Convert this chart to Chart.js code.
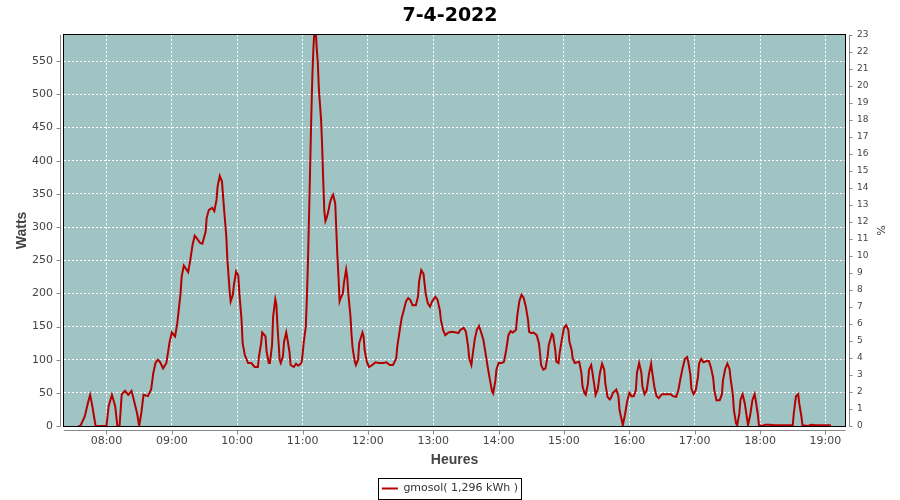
<!DOCTYPE html>
<html>
<head>
<meta charset="utf-8">
<script src="https://cdn.jsdelivr.net/npm/chart.js@4/dist/chart.umd.min.js"></script>
<style>
  html, body { margin: 0; padding: 0; background: #ffffff; }
  canvas { display: block; }
</style>
</head>
<body>
<canvas id="c" width="900" height="500"></canvas>
<script>
// ---------- data ----------
const chartTitle = '7-4-2022';
const seriesLabel = 'gmosol( 1,296 kWh )';
const xTickLabels = ['08:00','09:00','10:00','11:00','12:00','13:00','14:00','15:00','16:00','17:00','18:00','19:00'];
const xRange = ['07:21', '19:18'];
const wattsRange = [0, 590];
const percentRange = [0, 23];

const times = [
'07:34','07:36','07:40','07:43','07:45','07:47','07:50','07:54','07:59','08:00','08:02','08:05','08:08','08:10','08:12','08:14','08:17','08:20','08:23','08:25','08:28','08:30','08:32','08:34','08:38','08:41','08:43','08:45','08:47','08:49','08:52','08:55','08:58',
'09:00','09:03','09:05','09:06','09:08','09:09','09:11','09:13','09:15','09:17','09:19','09:21','09:23','09:26','09:28','09:31','09:32','09:34','09:37','09:39','09:41','09:42','09:44','09:46','09:48','09:50','09:51','09:53','09:54','09:56','09:57','09:59',
'10:01','10:02','10:04','10:05','10:07','10:10','10:13','10:16','10:19','10:20','10:22','10:23','10:26','10:27','10:29','10:30','10:32','10:33','10:35','10:36','10:37','10:39','10:40','10:42','10:43','10:45','10:46','10:48','10:49','10:52','10:54','10:56','10:59',
'11:00','11:01','11:03','11:04','11:05','11:06','11:07','11:08','11:09','11:10','11:11','11:12','11:13','11:14','11:15','11:17','11:18','11:19','11:20','11:21','11:22','11:24','11:25','11:27','11:28','11:30','11:31','11:32','11:33','11:34','11:35','11:37','11:38','11:40','11:41','11:42','11:44','11:45','11:46','11:48','11:49','11:51','11:52','11:55','11:56','11:57','11:59',
'12:01','12:04','12:07','12:10','12:14','12:17','12:20','12:23','12:26','12:27','12:29','12:31','12:33','12:35','12:37','12:39','12:41','12:44','12:46','12:47','12:49','12:51','12:53','12:55','12:57','12:59',
'13:02','13:04','13:06','13:07','13:09','13:11','13:14','13:17','13:21','13:23','13:25','13:28','13:30','13:32','13:33','13:35','13:36','13:38','13:40','13:42','13:44','13:46','13:48','13:50','13:52','13:54','13:55','13:57','13:58',
'14:00','14:03','14:05','14:07','14:09','14:11','14:13','14:16','14:17','14:19','14:21','14:23','14:25','14:27','14:28','14:30','14:32','14:35','14:37','14:38','14:39','14:41','14:43','14:45','14:46','14:49','14:50','14:52','14:53','14:55','14:56','14:58',
'15:00','15:02','15:04','15:05','15:07','15:08','15:10','15:12','15:14','15:16','15:17','15:19','15:20','15:22','15:23','15:25','15:26','15:28','15:29','15:31','15:33','15:35','15:37','15:38','15:40','15:42','15:43','15:45','15:48','15:50','15:51','15:53','15:54','15:56','15:58',
'16:00','16:02','16:04','16:06','16:07','16:09','16:11','16:12','16:14','16:16','16:18','16:20','16:21','16:23','16:25','16:27','16:30','16:33','16:36','16:38','16:40','16:43','16:45','16:47','16:49','16:51','16:53','16:54','16:56','16:57','16:59',
'17:01','17:03','17:04','17:06','17:08','17:11','17:13','17:15','17:17','17:18','17:20','17:23','17:25','17:26','17:28','17:30','17:32','17:33','17:35','17:36','17:38','17:39','17:41','17:42','17:44','17:46','17:48','17:49','17:51','17:53','17:55','17:56','17:58','17:59',
'18:02','18:05','18:09','18:13','18:18','18:23','18:27','18:30','18:31','18:33','18:35','18:36','18:38','18:39','18:44','18:47','18:51','18:55','19:00','19:05'
];

const watts = [
0,0,14,35,47,30,0,0,0,0,30,47,30,0,0,48,53,47,53,40,20,0,20,47,45,55,80,95,100,97,87,95,127,
141,135,155,170,200,225,242,237,232,251,273,287,283,276,275,293,314,326,329,324,341,361,377,369,326,286,251,205,188,198,213,233,
227,200,160,125,107,95,95,89,89,105,125,141,135,112,95,95,122,165,191,183,150,100,95,105,127,141,132,112,92,89,94,91,95,
107,125,150,195,250,319,392,465,528,570,600,600,570,548,508,462,422,370,324,309,313,326,336,346,349,336,296,256,225,188,193,200,216,236,225,200,165,137,117,97,92,100,125,141,135,115,97,
89,92,96,95,95,96,92,92,102,120,142,163,175,188,193,190,182,182,195,218,235,230,200,185,180,188,
195,190,175,160,145,137,141,142,141,140,145,148,142,120,102,92,105,130,145,151,141,130,110,89,70,52,49,68,85,
95,95,97,115,137,143,141,145,165,188,198,193,180,160,142,140,141,137,125,110,92,85,87,105,122,139,137,115,97,95,110,130,
148,152,145,127,115,102,95,96,97,80,60,49,47,64,85,92,82,60,47,55,80,94,85,64,44,40,42,50,55,45,24,9,1,17,37,
50,45,45,54,80,95,81,60,48,54,78,94,81,59,45,42,48,48,48,48,45,44,54,72,88,101,104,98,78,56,48,
54,74,94,101,96,98,98,88,72,54,39,39,48,69,86,94,86,71,48,24,4,1,19,39,48,34,12,1,17,39,48,39,17,1,
0,2,2,1,1,1,1,1,19,45,48,34,14,1,0,2,1,1,1,1
];

// ---------- helpers ----------
const toMin = s => { const [h, m] = s.split(':').map(Number); return h * 60 + m; };
const points = times.map((t, i) => ({ x: toMin(t), y: watts[i] }));
const hourValues = xTickLabels.map(toMin);

const PLOT_BG = 'rgb(159,196,195)';
const AXIS_GRAY = '#8a8a8a';
const TEXT = '#444444';
const LINE_RED = '#B40000';

// plot background, frame, offset axis lines with tick marks, legend frame
const decor = {
  id: 'decor',
  beforeDraw(chart) {
    const { ctx, chartArea: a } = chart;
    ctx.save();
    ctx.fillStyle = PLOT_BG;
    ctx.fillRect(a.left, a.top, a.right - a.left, a.bottom - a.top);
    ctx.restore();
  },
  afterDraw(chart) {
    const { ctx, chartArea: a, scales } = chart;
    ctx.save();
    ctx.strokeStyle = '#000';
    ctx.lineWidth = 1;
    ctx.strokeRect(Math.round(a.left) - 0.5, Math.round(a.top) - 0.5,
                   Math.round(a.right - a.left) + 1, Math.round(a.bottom - a.top) + 1);
    ctx.strokeStyle = AXIS_GRAY;
    const lx = Math.round(a.left) - 3.5;
    const rx = Math.round(a.right) + 4.5;
    const by = Math.round(a.bottom) + 4.5;
    ctx.beginPath();
    ctx.moveTo(lx, a.top); ctx.lineTo(lx, a.bottom + 0.5);
    ctx.moveTo(rx, a.top); ctx.lineTo(rx, a.bottom + 0.5);
    ctx.moveTo(a.left, by); ctx.lineTo(a.right + 0.5, by);
    scales.y.ticks.forEach(t => {
      const py = Math.round(scales.y.getPixelForValue(t.value)) + 0.5;
      ctx.moveTo(lx - 4, py); ctx.lineTo(lx, py);
    });
    scales.y2.ticks.forEach(t => {
      const py = Math.round(scales.y2.getPixelForValue(t.value)) + 0.5;
      ctx.moveTo(rx, py); ctx.lineTo(rx + 3, py);
    });
    scales.x.ticks.forEach(t => {
      const px = Math.round(scales.x.getPixelForValue(t.value)) + 0.5;
      ctx.moveTo(px, by); ctx.lineTo(px, by + 4);
    });
    ctx.stroke();
    const lg = chart.legend;
    if (lg && lg.legendHitBoxes && lg.legendHitBoxes.length) {
      const hb = lg.legendHitBoxes[0];
      const cy = hb.top + hb.height / 2;
      ctx.strokeStyle = '#000';
      ctx.strokeRect(Math.round(hb.left) - 3.5, Math.round(cy - 10.5) + 0.5,
                     Math.round(hb.width) + 7, 21);
    }
    ctx.restore();
  }
};

new Chart(document.getElementById('c'), {
  type: 'line',
  data: {
    datasets: [{
      label: seriesLabel,
      data: points,
      yAxisID: 'y',
      borderColor: LINE_RED,
      backgroundColor: LINE_RED,
      borderWidth: 2,
      pointRadius: 0,
      tension: 0,
      fill: false
    }]
  },
  options: {
    responsive: false,
    animation: false,
    devicePixelRatio: 1,
    layout: { padding: { top: 0, left: 0, right: 0, bottom: -4 } },
    plugins: {
      title: {
        display: true,
        text: chartTitle,
        color: '#000',
        font: { family: 'DejaVu Sans', size: 19, weight: 'bold' },
        padding: { top: 5, bottom: 7 }
      },
      legend: {
        display: true,
        position: 'bottom',
        labels: {
          usePointStyle: true,
          pointStyle: 'line',
          pointStyleWidth: 16,
          padding: 0,
          color: '#333',
          font: { family: 'DejaVu Sans', size: 11 }
        }
      },
      tooltip: { enabled: false }
    },
    scales: {
      x: {
        type: 'linear',
        min: toMin(xRange[0]),
        max: toMin(xRange[1]),
        afterBuildTicks: s => { s.ticks = hourValues.map(v => ({ value: v })); },
        afterFit: s => {
          const lg = s.chart.legend;
          s.height = s.chart.height + 4 - (lg ? lg.height : 21) - 426;
        },
        ticks: {
          autoSkip: false, maxRotation: 0, padding: 9, color: TEXT,
          font: { family: 'DejaVu Sans', size: 11 },
          callback: v => { const i = hourValues.indexOf(v); return i >= 0 ? xTickLabels[i] : ''; }
        },
        grid: { color: '#ffffff', lineWidth: 1, drawTicks: false },
        border: { display: false, dash: [2, 2] },
        title: {
          display: true, text: 'Heures', color: TEXT,
          font: { family: 'Liberation Sans', size: 14, weight: 'bold' },
          padding: { top: 0, bottom: 14.6 }
        }
      },
      y: {
        position: 'left',
        min: wattsRange[0],
        max: wattsRange[1],
        afterFit: s => { s.width = 64; },
        ticks: {
          stepSize: 50, includeBounds: false, padding: 11, color: TEXT,
          font: { family: 'DejaVu Sans', size: 11 }
        },
        grid: { color: '#ffffff', lineWidth: 1, drawTicks: false },
        border: { display: false, dash: [2, 2] },
        title: {
          display: true, text: 'Watts', color: TEXT,
          font: { family: 'Liberation Sans', size: 14, weight: 'bold' },
          padding: { top: 13.6, bottom: 0 }
        }
      },
      y2: {
        position: 'right',
        min: percentRange[0],
        max: percentRange[1],
        afterFit: s => { s.width = 55; },
        ticks: {
          stepSize: 1, includeBounds: false, padding: 12, color: TEXT, autoSkip: false,
          font: { family: 'DejaVu Sans', size: 9 }
        },
        grid: { drawOnChartArea: false, drawTicks: false },
        border: { display: false },
        title: {
          display: true, text: '%', color: TEXT,
          font: { family: 'DejaVu Sans', size: 11 },
          padding: { top: 13.4, bottom: 0 }
        }
      }
    }
  },
  plugins: [decor]
});
</script>
</body>
</html>
